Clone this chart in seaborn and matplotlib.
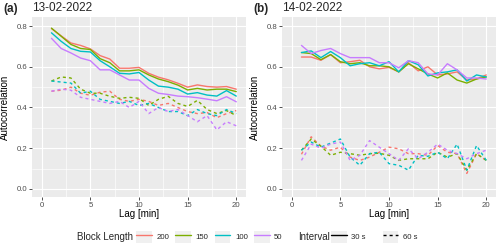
import matplotlib
matplotlib.use("Agg")
import matplotlib.pyplot as plt
from matplotlib.lines import Line2D
from matplotlib.patches import Rectangle
from matplotlib.ticker import MultipleLocator
import seaborn as sns
import pandas as pd

# data
lags = list(range(1, 21))
blocks = ["200", "150", "100", "50"]
intervals = ["30 s", "60 s"]
dates = ["13-02-2022", "14-02-2022"]
tags = ["(a)", "(b)"]

a_30_200 = [0.788, 0.752, 0.717, 0.705, 0.688, 0.655, 0.638, 0.593, 0.593, 0.597, 0.568, 0.549, 0.536, 0.519, 0.500, 0.511, 0.503, 0.500, 0.503, 0.490]
a_30_150 = [0.790, 0.750, 0.710, 0.690, 0.685, 0.640, 0.620, 0.580, 0.580, 0.585, 0.560, 0.540, 0.527, 0.510, 0.486, 0.494, 0.486, 0.490, 0.490, 0.478]
a_30_100 = [0.767, 0.725, 0.690, 0.676, 0.673, 0.630, 0.600, 0.568, 0.565, 0.572, 0.535, 0.505, 0.500, 0.490, 0.466, 0.473, 0.461, 0.456, 0.483, 0.456]
a_30_50 = [0.740, 0.690, 0.668, 0.643, 0.630, 0.585, 0.585, 0.560, 0.535, 0.535, 0.494, 0.470, 0.464, 0.456, 0.453, 0.448, 0.441, 0.433, 0.453, 0.428]

a_60_200 = [0.480, 0.485, 0.500, 0.470, 0.460, 0.475, 0.480, 0.440, 0.430, 0.440, 0.430, 0.410, 0.420, 0.400, 0.380, 0.370, 0.375, 0.350, 0.370, 0.385]
a_60_150 = [0.530, 0.550, 0.545, 0.490, 0.470, 0.470, 0.455, 0.445, 0.450, 0.445, 0.410, 0.440, 0.455, 0.420, 0.405, 0.435, 0.390, 0.370, 0.385, 0.360]
a_60_100 = [0.530, 0.525, 0.520, 0.470, 0.480, 0.440, 0.430, 0.420, 0.430, 0.410, 0.420, 0.400, 0.380, 0.380, 0.360, 0.390, 0.370, 0.360, 0.390, 0.370]
a_60_50 = [0.480, 0.490, 0.485, 0.450, 0.440, 0.430, 0.420, 0.430, 0.400, 0.430, 0.370, 0.400, 0.380, 0.390, 0.360, 0.330, 0.360, 0.290, 0.330, 0.310]

b_30_200 = [0.648, 0.648, 0.632, 0.660, 0.620, 0.625, 0.632, 0.600, 0.590, 0.597, 0.575, 0.620, 0.580, 0.600, 0.560, 0.565, 0.575, 0.535, 0.540, 0.560]
b_30_150 = [0.670, 0.665, 0.635, 0.660, 0.625, 0.615, 0.620, 0.605, 0.605, 0.600, 0.575, 0.615, 0.590, 0.565, 0.545, 0.570, 0.535, 0.520, 0.540, 0.550]
b_30_100 = [0.670, 0.678, 0.645, 0.675, 0.645, 0.605, 0.615, 0.620, 0.605, 0.625, 0.575, 0.630, 0.610, 0.555, 0.570, 0.575, 0.585, 0.530, 0.560, 0.550]
b_30_50 = [0.705, 0.665, 0.680, 0.690, 0.665, 0.645, 0.645, 0.645, 0.620, 0.620, 0.595, 0.630, 0.620, 0.565, 0.560, 0.615, 0.585, 0.545, 0.545, 0.540]

b_60_200 = [0.170, 0.256, 0.210, 0.190, 0.205, 0.156, 0.140, 0.156, 0.180, 0.205, 0.197, 0.173, 0.173, 0.165, 0.213, 0.180, 0.173, 0.076, 0.173, 0.140]
b_60_150 = [0.190, 0.245, 0.210, 0.165, 0.180, 0.173, 0.165, 0.173, 0.175, 0.165, 0.140, 0.148, 0.148, 0.148, 0.180, 0.156, 0.173, 0.092, 0.173, 0.140]
b_60_100 = [0.190, 0.230, 0.205, 0.225, 0.245, 0.156, 0.116, 0.173, 0.180, 0.124, 0.116, 0.092, 0.165, 0.160, 0.180, 0.148, 0.220, 0.092, 0.213, 0.140]
b_60_50 = [0.140, 0.220, 0.200, 0.220, 0.230, 0.140, 0.165, 0.237, 0.205, 0.173, 0.140, 0.197, 0.148, 0.180, 0.220, 0.190, 0.173, 0.148, 0.173, 0.190]

series = {
    ("a", "30 s"): [a_30_200, a_30_150, a_30_100, a_30_50],
    ("a", "60 s"): [a_60_200, a_60_150, a_60_100, a_60_50],
    ("b", "30 s"): [b_30_200, b_30_150, b_30_100, b_30_50],
    ("b", "60 s"): [b_60_200, b_60_150, b_60_100, b_60_50],
}

rows = []
for (panel, interval), vals in series.items():
    for block, ys in zip(blocks, vals):
        for lag, y in zip(lags, ys):
            rows.append({"panel": panel, "interval": interval, "block": block, "lag": lag, "ac": y})
df = pd.DataFrame(rows)

colors = ["#F8766D", "#7CAE00", "#00BFC4", "#C77CFF"]
palette = dict(zip(blocks, colors))

sns.set_theme(style="darkgrid")
plt.rcParams["font.family"] = ["Liberation Sans", "DejaVu Sans"]

fig = plt.figure(figsize=(5, 2.47), dpi=100)
axes = [fig.add_axes([0.064, 0.2024, 0.428, 0.729]),
        fig.add_axes([0.564, 0.2024, 0.428, 0.729])]

for ax, panel, date, tag in zip(axes, ["a", "b"], dates, tags):
    sns.lineplot(data=df[df.panel == panel], x="lag", y="ac", hue="block", style="interval",
                 hue_order=blocks, palette=palette, style_order=intervals,
                 dashes={"30 s": "", "60 s": (2.2, 2.2)}, linewidth=1.0,
                 legend=False, ax=ax, estimator=None, sort=True)
    ax.set_facecolor("#EBEBEB")
    ax.set_xlim(-1, 21)
    ax.set_ylim(-0.04, 0.845)
    ax.xaxis.set_major_locator(MultipleLocator(5))
    ax.xaxis.set_minor_locator(MultipleLocator(2.5))
    ax.yaxis.set_major_locator(MultipleLocator(0.2))
    ax.yaxis.set_minor_locator(MultipleLocator(0.1))
    ax.set_yticks([0.0, 0.2, 0.4, 0.6, 0.8])
    ax.set_yticklabels(["0.0", "0.2", "0.4", "0.6", "0.8"])
    ax.grid(which="major", color="white", linewidth=0.85)
    ax.grid(which="minor", color="white", linewidth=0.45)
    ax.set_axisbelow(True)
    for s in ax.spines.values():
        s.set_visible(False)
    ax.tick_params(which="major", length=2, width=0.6, color="#333333", labelsize=5.6,
                   labelcolor="#4D4D4D", pad=1.5, bottom=True, left=True)
    ax.tick_params(which="minor", length=0)
    ax.set_xlabel("Lag [min]", fontsize=7, color="black")
    ax.set_ylabel("Autocorrelation", fontsize=7, color="black")
    ax.xaxis.set_label_coords(0.5, -0.065)
    ax.yaxis.set_label_coords(-0.105, 0.5)
    ax.set_title(date, loc="left", fontsize=8.5, pad=4)

fig.text(0.006, 0.965, "(a)", fontsize=8.5, fontweight="bold", va="center")
fig.text(0.506, 0.965, "(b)", fontsize=8.5, fontweight="bold", va="center")

# legends in ggplot style: title on the left, grey key boxes
ly = 1 - 237 / 247
key_bg = "#F0F0F0"
fig.text(77 / 500, ly, "Block Length", fontsize=7, va="center")
h1 = [(Rectangle((0, 0), 1, 1, facecolor=key_bg, edgecolor="none"),
       Line2D([], [], color=c, lw=1.0)) for c in colors]
fig.legend(h1, blocks, loc="center left", bbox_to_anchor=(136 / 500, ly), ncol=4,
           frameon=False, fontsize=5.6, handlelength=2.0, handleheight=2.0,
           handletextpad=0.6, columnspacing=0.8, borderpad=0, borderaxespad=0)

fig.text(298 / 500, ly, "Interval", fontsize=7, va="center")
h2 = [(Rectangle((0, 0), 1, 1, facecolor=key_bg, edgecolor="none"),
       Line2D([], [], color="black", lw=1.0, linestyle=ls)) for ls in ["-", (0, (2.2, 2.2))]]
fig.legend(h2, intervals, loc="center left", bbox_to_anchor=(331 / 500, ly), ncol=2,
           frameon=False, fontsize=5.6, handlelength=2.0, handleheight=2.0,
           handletextpad=0.6, columnspacing=2.2, borderpad=0, borderaxespad=0)

fig.savefig("out.png", dpi=100)
